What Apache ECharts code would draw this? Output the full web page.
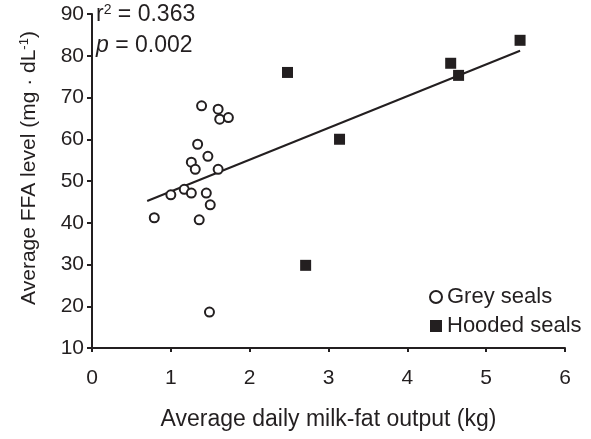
<!DOCTYPE html>
<html>
<head>
<meta charset="utf-8">
<script src="https://cdn.jsdelivr.net/npm/echarts@6/dist/echarts.min.js"></script>
<style>
  html, body { margin: 0; padding: 0; background: #fff; }
  #chart { width: 591px; height: 439px; }
</style>
</head>
<body>
<div id="chart"></div>
<script>
// grey seals: [milk-fat output kg, FFA mg/dL]
const greySeals = [
  [1.39, 68.0], [1.60, 67.2], [1.62, 64.8], [1.73, 65.2],
  [1.34, 58.8], [1.47, 55.9], [1.26, 54.5], [1.31, 52.8],
  [1.60, 52.8], [1.17, 48.0], [1.00, 46.7], [1.26, 47.1],
  [1.45, 47.1], [1.50, 44.3], [0.79, 41.2], [1.36, 40.7],
  [1.49, 18.6]
]
const hoodedSeals = [
  [2.48, 76.0], [3.14, 60.0], [2.71, 29.8],
  [4.55, 78.2], [4.65, 75.3], [5.43, 83.7]
]
// fitted regression line end points
const trendLine = [[0.70, 45.2], [5.43, 81.2]]
const xTicks = [0, 1, 2, 3, 4, 5, 6]
const yTicks = [10, 20, 30, 40, 50, 60, 70, 80, 90]

const ink = '#231f20'
const font = 'Liberation Sans, Arial, Helvetica, sans-serif'

const chart = echarts.init(document.getElementById('chart'))

chart.setOption({
  animation: false,
  backgroundColor: '#fff',
  textStyle: { fontFamily: font, color: ink },
  grid: { left: 92, right: 26, top: 14, bottom: 91 },
  xAxis: {
    type: 'value',
    min: xTicks[0],
    max: xTicks[xTicks.length - 1],
    interval: 1,
    name: 'Average daily milk-fat output (kg)',
    nameLocation: 'middle',
    nameGap: 60,
    nameTextStyle: { fontSize: 23, color: ink, fontFamily: font },
    splitLine: { show: false },
    axisLine: { onZero: false, lineStyle: { color: ink, width: 2 } },
    axisTick: { show: true, length: 4, lineStyle: { color: ink, width: 2 } },
    axisLabel: { fontSize: 21, color: ink, margin: 20, fontFamily: font }
  },
  yAxis: {
    type: 'value',
    min: yTicks[0],
    max: yTicks[yTicks.length - 1],
    interval: 10,
    name: 'Average FFA level (mg · dL{sup|-1})',
    nameLocation: 'middle',
    nameGap: 52,
    nameTextStyle: {
      fontSize: 21, color: ink, fontFamily: font,
      // shift the rotated title a little upwards, as in the original
      padding: [0, 0, 0, 26],
      rich: { sup: { fontSize: 13, color: ink, fontFamily: font, verticalAlign: 'top', padding: [0, 0, 9, 0] } }
    },
    splitLine: { show: false },
    axisLine: { onZero: false, lineStyle: { color: ink, width: 2 } },
    axisTick: { show: true, length: 5, lineStyle: { color: ink, width: 2 } },
    axisLabel: { fontSize: 21, color: ink, margin: 8, fontFamily: font }
  },
  legend: {
    orient: 'vertical',
    left: 429,
    top: 286,
    padding: 0,
    itemGap: 7,
    itemWidth: 12,
    itemHeight: 12,
    textStyle: { fontSize: 22, color: ink, fontFamily: font },
    data: [
      { name: 'Grey seals', icon: 'circle', itemStyle: { color: '#fff', borderColor: ink, borderWidth: 2 } },
      { name: 'Hooded seals', icon: 'rect' }
    ]
  },
  graphic: [
    {
      type: 'text',
      left: 96,
      top: 3,
      style: {
        text: '{a|r}{s|2}{a| = 0.363}',
        fill: ink,
        rich: {
          a: { fontSize: 23, fontFamily: font, fill: ink },
          s: { fontSize: 14, fontFamily: font, fill: ink, verticalAlign: 'top', padding: [0, 0, 10, 0] }
        }
      }
    },
    {
      type: 'text',
      left: 96,
      top: 34,
      style: {
        text: '{i|p}{a| = 0.002}',
        fill: ink,
        rich: {
          a: { fontSize: 23, fontFamily: font, fill: ink },
          i: { fontSize: 23, fontFamily: font, fill: ink, fontStyle: 'italic' }
        }
      }
    }
  ],
  series: [
    {
      name: 'Grey seals',
      type: 'scatter',
      data: greySeals,
      symbol: 'circle',
      symbolSize: 9,
      itemStyle: { color: '#fff', borderColor: ink, borderWidth: 2, opacity: 1 },
      z: 3
    },
    {
      name: 'Hooded seals',
      type: 'scatter',
      data: hoodedSeals,
      symbol: 'rect',
      symbolSize: 11,
      itemStyle: { color: ink, opacity: 1 },
      z: 3
    },
    {
      name: 'trend',
      type: 'line',
      data: trendLine,
      symbol: 'none',
      silent: true,
      lineStyle: { color: ink, width: 2 },
      z: 2
    }
  ]
})
</script>
</body>
</html>
